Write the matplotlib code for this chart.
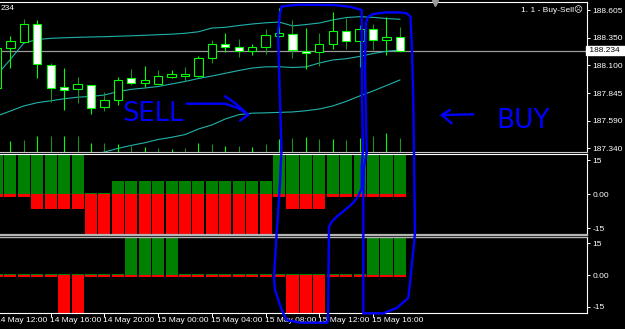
import matplotlib
matplotlib.use("Agg")
import matplotlib.pyplot as plt
import matplotlib.patches as mpatches
import numpy as np

plt.rcParams['font.family'] = ['Liberation Sans', 'DejaVu Sans']

# ── Data: H1 candles, 14 May 12:00 .. 15 May 18:00 ─────────────────────────
opens  = [187.891, 188.257, 188.312, 188.474, 188.102, 187.896, 187.878, 187.923,
          187.715, 187.782, 187.980, 187.940, 187.931, 187.995, 188.004, 188.004,
          188.163, 188.294, 188.269, 188.230, 188.269, 188.370, 188.385, 188.233,
          188.218, 188.291, 188.413, 188.324, 188.428, 188.331, 188.355]
highs  = [188.270, 188.367, 188.523, 188.513, 188.120, 188.074, 187.992, 187.923,
          187.852, 187.992, 188.065, 188.093, 188.056, 188.056, 188.086, 188.184,
          188.331, 188.392, 188.337, 188.294, 188.431, 188.621, 188.513, 188.438,
          188.397, 188.589, 188.529, 188.468, 188.477, 188.544, 188.452]
lows   = [187.870, 188.074, 188.305, 187.986, 187.763, 187.690, 187.754, 187.654,
          187.681, 187.736, 187.919, 187.903, 187.928, 187.980, 187.958, 187.995,
          188.123, 188.223, 188.178, 188.191, 188.200, 188.361, 188.169, 188.062,
          188.093, 188.245, 188.245, 188.086, 188.239, 188.193, 188.234]
closes = [188.257, 188.321, 188.474, 188.111, 187.891, 187.869, 187.928, 187.704,
          187.782, 187.965, 187.940, 187.965, 188.001, 188.019, 188.019, 188.163,
          188.294, 188.269, 188.230, 188.269, 188.376, 188.392, 188.239, 188.209,
          188.294, 188.413, 188.324, 188.431, 188.331, 188.355, 188.234]

bb_up  = [188.010, 188.154, 188.303, 188.335, 188.346, 188.351, 188.355, 188.358,
          188.361, 188.365, 188.369, 188.374, 188.379, 188.384, 188.392, 188.406,
          188.440, 188.447, 188.463, 188.477, 188.488, 188.495, 188.460, 188.472,
          188.486, 188.514, 188.536, 188.544, 188.538, 188.527, 188.520]
bb_mid = [187.635, 187.681, 187.727, 187.757, 187.774, 187.793, 187.807, 187.814,
          187.827, 187.858, 187.879, 187.891, 187.905, 187.928, 187.951, 187.978,
          188.001, 188.026, 188.051, 188.074, 188.085, 188.086, 188.079, 188.084,
          188.120, 188.148, 188.159, 188.180, 188.207, 188.227, 188.239]
bb_lo  = [187.260, 187.208, 187.150, 187.179, 187.202, 187.236, 187.260, 187.269,
          187.306, 187.338, 187.366, 187.390, 187.420, 187.440, 187.465, 187.516,
          187.553, 187.608, 187.647, 187.661, 187.664, 187.668, 187.672, 187.683,
          187.699, 187.727, 187.769, 187.818, 187.864, 187.914, 187.965]

volume = [900, 1050, 1150, 1550, 1550, 1550, 1550, 880, 820, 720, 550, 480, 380,
          250, 380, 880, 750, 580, 580, 480, 750, 1250, 1380, 1480, 1220, 1220,
          1150, 1380, 1580, 1880, 1380]

# Buy-Sell indicator, two sub windows (green = up, red = down)
osc1_up = [18, 18, 18, 18, 18, 18, 18, 0.6, 0.6, 5.8, 5.8, 5.8, 5.8, 5.8, 5.8, 5.8,
           5.8, 5.8, 5.8, 5.8, 5.8, 18, 18, 18, 18, 18, 18, 18, 18, 18, 18]
osc1_dn = [-1.2, -1.2, -1.2, -6.7, -6.7, -6.7, -6.7, -18, -18, -18, -18, -18, -18,
           -18, -18, -18, -18, -18, -18, -18, -18, -1.2, -6.7, -6.7, -6.7, -1.2,
           -1.2, -1.2, -1.2, -1.2, -1.2]
osc2_up = [0.5, 0.5, 0.5, 0.5, 0.5, 0.5, 0.5, 0.5, 0.5, 0.5, 18, 18, 18, 18, 0.5,
           0.5, 0.5, 0.5, 0.5, 0.5, 0.5, 0.5, 0.5, 0.5, 0.5, 0.5, 0.5, 0.5, 18, 18, 18]
osc2_dn = [-1, -1, -1, -1, -1, -18, -18, -1, -1, -1, -1, -1, -1, -1, -1, -1, -1,
           -1, -1, -1, -1, -1, -18, -18, -18, -1, -1, -1, -1, -1, -1]

time_idx    = [0, 4, 8, 12, 16, 20, 24, 28]
time_labels = ["14 May 12:00", "14 May 16:00", "14 May 20:00", "15 May 00:00",
               "15 May 04:00", "15 May 08:00", "15 May 12:00", "15 May 16:00"]
price_ticks = [188.605, 188.350, 188.100, 187.845, 187.590, 187.340]
last_price  = 188.234
osc_ticks   = [15, 0, -15]
osc_labels  = ["15", "0.00", "-15"]

# ── Colours ─────────────────────────────────────────────────────────────────
C_BG    = "black"
C_LIME  = "#00ff00"
C_LIME2 = "#1f8f1f"
C_BAND  = "#20b2aa"
C_GREEN = "#008000"
C_RED   = "#ff0000"
C_PEN   = "#0000ff"
C_TXT   = "white"

W, H = 625, 329
fig = plt.figure(figsize=(W/100, H/100), dpi=100, facecolor=C_BG)

def px_rect(x0, y0, x1, y1):
    return [x0/W, 1 - y1/H, (x1-x0)/W, (y1-y0)/H]

n = len(closes)
x = np.arange(n)
SPC = 13.43           # px per bar
RIGHT = 587
xmin = 3 / SPC
xlim = (xmin, xmin + RIGHT / SPC)

def style_panel(ax, top_col="white", bot_col="white", top_lw=0.8, bot_lw=0.8):
    ax.set_facecolor(C_BG)
    ax.spines['left'].set_visible(False)
    ax.spines['right'].set_color("white"); ax.spines['right'].set_linewidth(0.8)
    ax.spines['top'].set_color(top_col); ax.spines['top'].set_linewidth(top_lw)
    ax.spines['bottom'].set_color(bot_col); ax.spines['bottom'].set_linewidth(bot_lw)
    ax.yaxis.tick_right()
    ax.tick_params(axis='y', colors=C_TXT, labelsize=6, length=2.5, width=0.7, pad=1.5)

alt_cols = [C_LIME if i % 2 else C_LIME2 for i in range(n)]

# ── 1. Price window ─────────────────────────────────────────────────────────
ax = fig.add_axes(px_rect(0, 1.5, RIGHT, 151.5))
style_panel(ax, bot_col="#c8c8c8")
ax.set_xticks([])
ax.set_yticks(price_ticks)
ax.set_yticklabels([f"{p:.3f}" for p in price_ticks])

ax.axhline(last_price, color="#9a9a9a", lw=0.9, zorder=1)
for band in (bb_up, bb_mid, bb_lo):
    ax.plot(x, band, color=C_BAND, lw=0.8, zorder=2)

ax.vlines(x, lows, highs, colors=alt_cols, lw=0.8, zorder=3)
BW = 0.62
for i in range(n):
    o, c = opens[i], closes[i]
    fc = "black" if c >= o else "white"
    ax.add_patch(mpatches.Rectangle((i - BW/2, min(o, c)), BW, max(abs(c - o), 0.002),
                 facecolor=fc, edgecolor=C_LIME, linewidth=0.8, zorder=4))
ax.set_xlim(*xlim)
ax.set_ylim(187.310, 188.683)

ax.text(1.0, last_price, f" {last_price:.3f}  ", transform=ax.get_yaxis_transform(),
        color="black", fontsize=6, va="center", ha="left", clip_on=False,
        bbox=dict(facecolor="white", edgecolor="white", pad=0.8), zorder=6)

# volumes at the bottom of the price window
axv = fig.add_axes(px_rect(0, 1.5, RIGHT, 151.5))
axv.axis('off'); axv.patch.set_alpha(0)
axv.vlines(x, 0, volume, colors=alt_cols, lw=0.8)
axv.set_xlim(*xlim)
axv.set_ylim(0, 15000)

# ── 2. Oscillator 1 ─────────────────────────────────────────────────────────
ax2 = fig.add_axes(px_rect(0, 153.5, RIGHT, 235))
style_panel(ax2, bot_col="#b4b4b4", bot_lw=1.6)
ax2.bar(x, osc1_up, width=0.9, color=C_GREEN, linewidth=0)
ax2.bar(x, osc1_dn, width=0.9, color=C_RED, linewidth=0)
ax2.set_xticks([])
ax2.set_yticks(osc_ticks); ax2.set_yticklabels(osc_labels)
ax2.set_xlim(*xlim)
ax2.set_ylim(-18, 18)

# ── 3. Oscillator 2 ─────────────────────────────────────────────────────────
ax3 = fig.add_axes(px_rect(0, 237, RIGHT, 313))
style_panel(ax3, top_col="#b4b4b4", top_lw=1.0)
ax3.bar(x, osc2_up, width=0.9, color=C_GREEN, linewidth=0)
ax3.bar(x, osc2_dn, width=0.9, color=C_RED, linewidth=0)
ax3.set_yticks(osc_ticks); ax3.set_yticklabels(osc_labels)
ax3.set_xticks(time_idx)
ax3.set_xticklabels([])
ax3.tick_params(axis='x', colors=C_TXT, length=3, width=0.7)
ax3.set_xlim(*xlim)      # after set_xticks, which would widen the view
ax3.set_ylim(-18, 18)
# time labels, left-aligned at their tick (first one runs off the left edge)
for ti, lab in zip(time_idx, time_labels):
    ax3.text(ti - 1.0 / SPC, -0.05, lab, transform=ax3.get_xaxis_transform(),
             color=C_TXT, fontsize=6, ha="left", va="top", clip_on=False)

# ── Overlay: header texts + hand-drawn marks ────────────────────────────────
ov = fig.add_axes([0, 0, 1, 1], zorder=10)
ov.set_xlim(0, W); ov.set_ylim(H, 0); ov.axis('off'); ov.patch.set_alpha(0)

ov.text(1, 8, "234", color=C_TXT, fontsize=6, va="center", ha="left")
ov.text(583, 10, "1. 1 - Buy-Sell\u2639", color=C_TXT, fontsize=6, va="center", ha="right")
ov.plot([435], [2.5], marker="v", color="#9a9a9a", markersize=4)

strokes = [
    # box around sell zone
    [(281.7, 6.7), (280, 13), (278, 33), (279, 67), (280, 100), (281.5, 150), (280, 183),
     (276.7, 233), (274, 277), (275, 290), (281.7, 310), (286.7, 320), (300, 322.7),
     (327, 322.7), (328, 320), (329, 226.7), (331.7, 221.7), (336.7, 216.7), (345, 210),
     (353, 203), (358, 196.7), (361.7, 188.3), (361.7, 166.7), (363, 150), (362, 100),
     (361.7, 10), (350, 6.7), (333, 5), (300, 4.7), (286.7, 5.7), (281.7, 6.7)],
    # box around buy zone
    [(366.7, 153), (365, 66.7), (366, 23), (368, 16.7), (373, 14), (386.7, 12.3),
     (400, 12.5), (406.7, 13.3), (410.5, 16.7), (412, 50), (413.3, 100), (414, 155),
     (415, 233), (410, 283), (408.3, 298), (396.7, 308), (383.3, 313.3), (363.3, 313.3),
     (363.3, 200), (364, 167), (366.7, 153)],
    # arrow after SELL
    [(186.7, 103.7), (225, 103.7), (238, 108), (248.3, 114.7)],
    [(225, 96.3), (235, 103), (248.3, 114.7), (240, 120.7)],
    # arrow before BUY
    [(441.7, 115), (473.3, 114.3)],
    [(450, 110), (441.7, 115), (451.7, 123.3)],
]
for s in strokes:
    sx, sy = zip(*s)
    ov.plot(sx, sy, color=C_PEN, lw=1.7, solid_capstyle="round", solid_joinstyle="round")

ov.text(122, 121, "SELL", color=C_PEN, fontsize=18.5, family="DejaVu Sans",
        va="baseline", ha="left")
ov.text(496, 128, "BUY", color=C_PEN, fontsize=19, family="DejaVu Sans",
        va="baseline", ha="left")

fig.savefig("out.png", dpi=100, facecolor=C_BG)
